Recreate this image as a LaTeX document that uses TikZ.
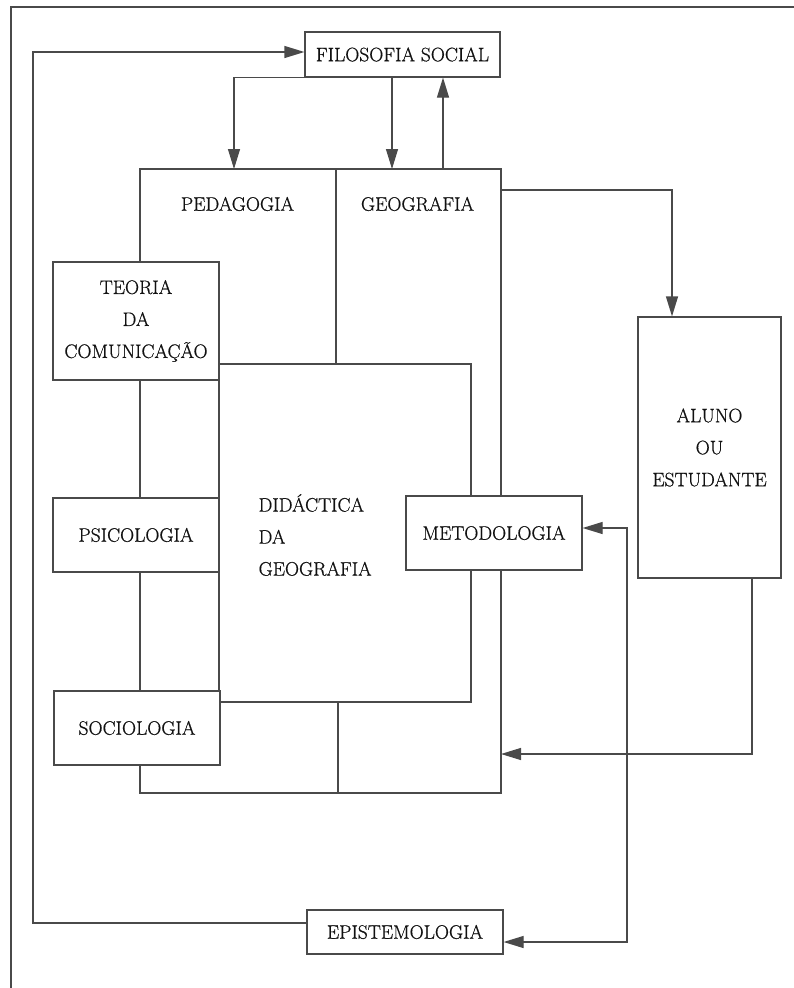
\documentclass[tikz,border=0pt]{standalone}
\usepackage{fontspec}
\newfontfamily\labfont[FakeBold=0.6]{Latin Modern Roman}
\usetikzlibrary{arrows.meta}
\definecolor{ink}{HTML}{4A4A4A}
\definecolor{txt}{HTML}{111111}
\begin{document}
\begin{tikzpicture}[x=1pt,y=-1pt,line width=1.2pt,color=ink,
  lab/.style={text=txt,inner sep=0pt,align=center,font=\labfont\fontsize{19.5}{32}\selectfont},
  box/.style={lab,draw=ink,fill=white},
  area/.style={draw=ink,inner sep=0pt},
  arr/.style={-{Triangle[length=20pt,width=12pt]}},
  arrs/.style={{Triangle[length=20pt,width=12pt]}-{Triangle[length=20pt,width=12pt]}}]
\useasboundingbox (0,0) rectangle (794,988);

% page frame (top and left rules)
\coordinate (frTL) at (11,7);
\coordinate (frTR) at (794,7);
\coordinate (frBL) at (11,988);
\draw (frTR) -- (frTL) -- (frBL);

% the two nested areas
\node[area, minimum width=361pt, minimum height=624pt] (outer) at (320.5,481) {};
\node[area, minimum width=252pt, minimum height=338pt] (inner) at (345,533) {};
\coordinate (d1) at (336,169);
\draw (d1) -- (d1 |- inner.north);
\coordinate (d2) at (338,793);
\draw (d2) -- (d2 |- inner.south);

% area labels
\node[lab] (ped) at (237.5,204) {PEDAGOGIA};
\node[lab] (geo) at (417.5,204) {GEOGRAFIA};
\node[lab, align=left, anchor=west] (dida) at (258,535) {DIDÁCTICA\\DA\\GEOGRAFIA};

% boxes
\node[box, minimum width=195pt, minimum height=45pt] (fil) at (402.5,54.5) {FILOSOFIA SOCIAL};
\node[box, minimum width=166pt, minimum height=118pt] (teo) at (136,321) {TEORIA\\DA\\COMUNICAÇÃO};
\node[box, minimum width=166pt, minimum height=74pt] (psi) at (136,535) {PSICOLOGIA};
\node[box, minimum width=166pt, minimum height=74pt] (soc) at (137,728) {SOCIOLOGIA};
\node[box, minimum width=176pt, minimum height=74pt] (met) at (494,533) {METODOLOGIA};
\node[box, minimum width=143pt, minimum height=261pt] (alu) at (709.5,447.5) {ALUNO\\OU\\ESTUDANTE};
\node[box, minimum width=196pt, minimum height=44pt] (epi) at (405,932) {EPISTEMOLOGIA};

% connectors
\coordinate (pedIn) at (234,169);
\draw[arr] (fil.south west) -| (pedIn);
\coordinate (geoIn) at (392,169);
\draw[arr] (geoIn |- fil.south) -- (geoIn);
\coordinate (geoOut) at (443,169);
\draw[arr] (geoOut) -- (geoOut |- fil.south);
\coordinate (geoR) at (501,190);
\coordinate (aluIn) at (672,0);
\draw[arr] (geoR) -| (aluIn |- alu.north);
\coordinate (aluOut) at (752,0);
\coordinate (backIn) at (501,754);
\draw[arr] (aluOut |- alu.south) |- (backIn);
\coordinate (metR) at (627,528);
\coordinate (epiR) at (627,942);
\draw[arrs] (met.east |- metR) -- (metR) -- (epiR) -- (epi.east |- epiR);
\coordinate (fbB) at (33,923);
\coordinate (fbT) at (33,52);
\draw[arr] (epi.west |- fbB) -- (fbB) -- (fbT) -- (fil.west |- fbT);
\end{tikzpicture}
\end{document}
